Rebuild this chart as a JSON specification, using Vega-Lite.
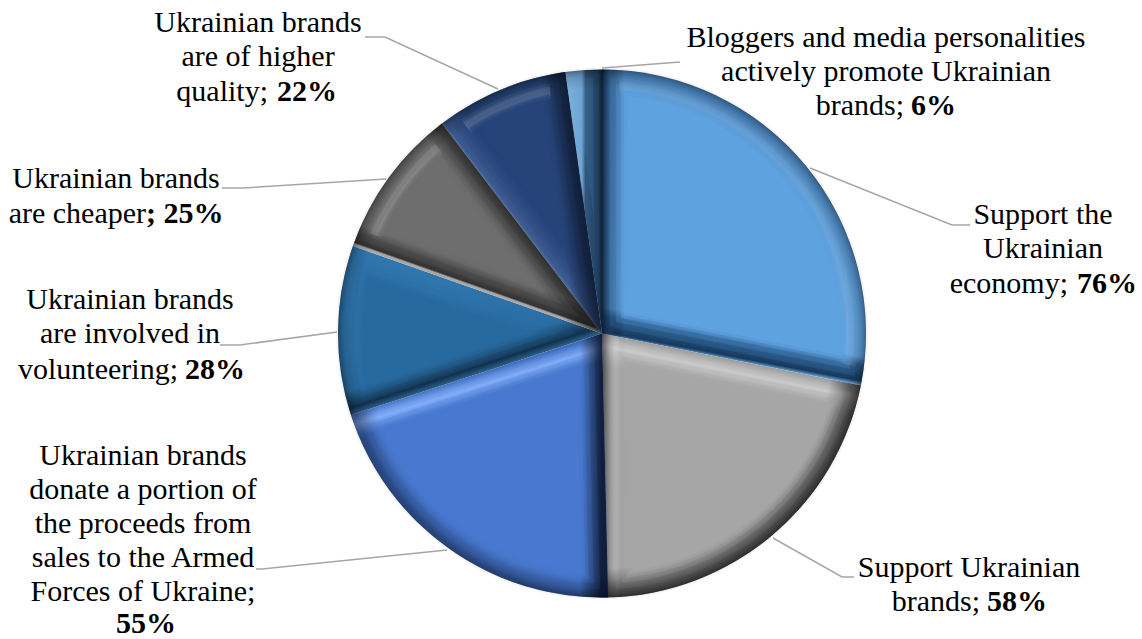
{
  "$schema": "https://vega.github.io/schema/vega-lite/v6.json",
  "width": 1080,
  "height": 611,
  "padding": {"left": 62, "top": 28, "right": 0, "bottom": 0},
  "autosize": "none",
  "background": "white",
  "config": {"view": {"stroke": null}},
  "data": {"values": [
    {"category": "economy", "slot": 0, "value": 76, "block": ["Support the", "Ukrainian"], "tail": "economy;", "bold": "76%"},
    {"category": "brands", "slot": 1, "value": 58, "block": ["Support Ukrainian"], "tail": "brands;", "bold": "58%"},
    {"category": "donate", "slot": 2, "value": 55, "block": ["Ukrainian brands", "donate a portion of", "the proceeds from", "sales to the Armed", "Forces of Ukraine;"], "tail": "", "bold": "55%"},
    {"category": "volunteering", "slot": 3, "value": 28, "block": ["Ukrainian brands", "are involved in"], "tail": "volunteering;", "bold": "28%"},
    {"category": "cheaper", "slot": 4, "value": 25, "block": ["Ukrainian brands"], "tail": "are cheaper", "bold": "; 25%"},
    {"category": "quality", "slot": 5, "value": 22, "block": ["Ukrainian brands", "are of higher"], "tail": "quality;", "bold": "22%"},
    {"category": "promote", "slot": 6, "value": 6, "block": ["Bloggers and media personalities", "actively promote Ukrainian"], "tail": "brands;", "bold": "6%"}
  ]},
  "resolve": {"scale": {"x": "independent", "y": "independent", "color": "independent"}},
  "layer": [
    {
      "transform": [
        {"calculate": "min(8 / sin(PI * datum.value / 270), 200)", "as": "apex8"},
        {"calculate": "min(14 / sin(PI * datum.value / 270), 200)", "as": "apex14"},
        {"calculate": "min(19 / sin(PI * datum.value / 270), 200)", "as": "apex19"},
        {"calculate": "min(22 / sin(PI * datum.value / 270), 200)", "as": "apex22"},
        {"calculate": "min(25 / sin(PI * datum.value / 270), 200)", "as": "apex25"}
      ],
      "encoding": {
        "theta": {"field": "value", "type": "quantitative", "stack": true},
        "order": {"field": "value", "sort": "descending"},
        "detail": {"field": "category"}
      },
      "layer": [
        {"mark": {"type": "arc", "radius": 266, "fill": "#000000", "opacity": 0.04}},
        {
          "mark": {"type": "arc", "radius": 264},
          "encoding": {"fill": {
            "condition": [
              {"test": "datum.category === 'economy'", "value": {"gradient": "linear", "x1": 0.5, "y1": 0, "x2": 0.356, "y2": 0.9, "stops": [{"offset": 0, "color": "#4d8bc8"}, {"offset": 0.9, "color": "#5ea2e0"}, {"offset": 0.93, "color": "#2b5d8e"}, {"offset": 0.985, "color": "#173a5e"}, {"offset": 1, "color": "#6fb0ea"}]}},
              {"test": "datum.category === 'brands'", "value": {"gradient": "linear", "x1": 0.5, "y1": 0.097, "x2": 0.4, "y2": 0.6, "stops": [{"offset": 0, "color": "#9a9a9a"}, {"offset": 0.09, "color": "#cfcfcf"}, {"offset": 0.18, "color": "#b4b4b4"}, {"offset": 0.24, "color": "#a6a6a6"}, {"offset": 1, "color": "#a6a6a6"}]}},
              {"test": "datum.category === 'donate'", "value": {"gradient": "linear", "x1": 0.5, "y1": 0.15, "x2": 0.74, "y2": 0.95, "stops": [{"offset": 0, "color": "#3d6cc0"}, {"offset": 0.055, "color": "#8ab4ff"}, {"offset": 0.115, "color": "#4878cf"}, {"offset": 1, "color": "#4878cf"}]}},
              {"test": "datum.category === 'volunteering'", "value": {"gradient": "linear", "x1": 0.26, "y1": 0.3, "x2": 0.5, "y2": 0.77, "stops": [{"offset": 0, "color": "#2f76ad"}, {"offset": 0.74, "color": "#2a6ea4"}, {"offset": 0.82, "color": "#1f567f"}, {"offset": 0.93, "color": "#12304e"}, {"offset": 1, "color": "#2d5f88"}]}},
              {"test": "datum.category === 'cheaper'", "value": {"gradient": "linear", "x1": 0.71, "y1": 0.29, "x2": 0.5, "y2": 0.79, "stops": [{"offset": 0, "color": "#6e6e6e"}, {"offset": 0.81, "color": "#6e6e6e"}, {"offset": 0.88, "color": "#4a4a4a"}, {"offset": 0.97, "color": "#333333"}, {"offset": 0.985, "color": "#a8a8a8"}, {"offset": 1, "color": "#a8a8a8"}]}},
              {"test": "datum.category === 'quality'", "value": {"gradient": "linear", "x1": 0.5, "y1": 0.6, "x2": 0.58, "y2": 0.5, "stops": [{"offset": 0, "color": "#54709c"}, {"offset": 0.12, "color": "#3c5a90"}, {"offset": 1, "color": "#264478"}]}},
              {"test": "datum.category === 'promote'", "value": {"gradient": "linear", "x1": 0, "y1": 0.5, "x2": 1, "y2": 0.5, "stops": [{"offset": 0, "color": "#7db2dc"}, {"offset": 0.45, "color": "#6ea4d2"}, {"offset": 0.55, "color": "#30587f"}, {"offset": 0.9, "color": "#1e3e5f"}, {"offset": 1, "color": "#0f2030"}]}}
            ],
            "value": "#888888"
          }}
        },
        {
          "mark": {"type": "arc", "radius": 264},
          "encoding": {"fill": {
            "condition": [
              {"test": "datum.category === 'economy'", "value": {"gradient": "linear", "x1": 0, "y1": 0.5, "x2": 1, "y2": 0.5, "stops": [{"offset": 0, "color": "rgba(10,30,55,0.95)"}, {"offset": 0.03, "color": "rgba(20,50,85,0.5)"}, {"offset": 0.085, "color": "rgba(0,0,0,0)"}, {"offset": 1, "color": "rgba(0,0,0,0)"}]}},
              {"test": "datum.category === 'brands'", "value": {"gradient": "linear", "x1": 0, "y1": 0.5, "x2": 1, "y2": 0.5, "stops": [{"offset": 0, "color": "rgba(30,30,30,0.7)"}, {"offset": 0.02, "color": "rgba(60,60,60,0.4)"}, {"offset": 0.06, "color": "rgba(255,255,255,0.1)"}, {"offset": 0.09, "color": "rgba(0,0,0,0)"}, {"offset": 1, "color": "rgba(0,0,0,0)"}]}},
              {"test": "datum.category === 'donate'", "value": {"gradient": "linear", "x1": 0, "y1": 0.5, "x2": 1, "y2": 0.5, "stops": [{"offset": 0, "color": "rgba(0,0,0,0)"}, {"offset": 0.89, "color": "rgba(0,0,0,0)"}, {"offset": 0.975, "color": "rgba(10,20,45,0.9)"}, {"offset": 1, "color": "rgba(10,20,45,0.9)"}]}},
              {"test": "datum.category === 'cheaper'", "value": {"gradient": "linear", "x1": 0.48, "y1": 0.628, "x2": 0.68, "y2": 0.5, "stops": [{"offset": 0, "color": "rgba(0,0,0,0)"}, {"offset": 0.6, "color": "rgba(0,0,0,0)"}, {"offset": 1, "color": "rgba(20,20,20,0.7)"}]}},
              {"test": "datum.category === 'quality'", "value": {"gradient": "linear", "x1": 0.735, "y1": 0.534, "x2": 0.885, "y2": 0.5, "stops": [{"offset": 0, "color": "rgba(0,0,0,0)"}, {"offset": 0.9, "color": "rgba(10,20,40,0.75)"}, {"offset": 1, "color": "rgba(10,20,40,0.75)"}]}}
            ],
            "value": "rgba(0,0,0,0)"
          }}
        },
        {
          "mark": {"type": "arc", "radius": 264},
          "encoding": {"fill": {
            "condition": [
              {"test": "datum.category === 'brands'", "value": {"gradient": "radial", "x1": 0, "y1": 0, "r1": 0, "x2": 0, "y2": 0, "r2": 1, "stops": [{"offset": 0, "color": "rgba(0,0,0,0)"}, {"offset": 0.89, "color": "rgba(0,0,0,0)"}, {"offset": 0.97, "color": "rgba(0,0,0,0.45)"}, {"offset": 1, "color": "rgba(0,0,0,0.55)"}]}},
              {"test": "datum.category === 'donate'", "value": {"gradient": "radial", "x1": 0.98, "y1": 0, "r1": 0, "x2": 0.98, "y2": 0, "r2": 1.02, "stops": [{"offset": 0, "color": "rgba(0,0,0,0)"}, {"offset": 0.9, "color": "rgba(0,0,0,0)"}, {"offset": 0.975, "color": "rgba(5,20,60,0.3)"}, {"offset": 1, "color": "rgba(5,20,60,0.1)"}]}}
            ],
            "value": "rgba(0,0,0,0)"
          }}
        },
        {
          "mark": {"type": "arc", "radius": 256, "radius2": 240, "padAngle": 0.1, "fill": "#ffffff"},
          "encoding": {"opacity": {
            "condition": [
              {"test": "datum.category === 'quality' || datum.category === 'cheaper'", "value": 0.07},
              {"test": "datum.category === 'economy'", "value": 0.05}
            ],
            "value": 0
          }}
        },
        {
          "mark": {"type": "arc", "radius": 253, "radius2": 243, "padAngle": 0.1, "fill": "#ffffff"},
          "encoding": {"opacity": {
            "condition": [
              {"test": "datum.category === 'quality' || datum.category === 'cheaper'", "value": 0.09},
              {"test": "datum.category === 'economy'", "value": 0.06}
            ],
            "value": 0
          }}
        },
        {
          "mark": {"type": "arc", "radius": 251, "radius2": 245, "padAngle": 0.1, "fill": "#ffffff"},
          "encoding": {"opacity": {
            "condition": [
              {"test": "datum.category === 'quality' || datum.category === 'cheaper'", "value": 0.09},
              {"test": "datum.category === 'economy'", "value": 0.06}
            ],
            "value": 0
          }}
        },
        {
          "mark": {"type": "arc", "radius": 256, "radius2": {"expr": "datum.apex8"}, "padAngle": 0.0625, "opacity": 0.12},
          "encoding": {
            "color": {"field": "category", "type": "nominal", "legend": null, "scale": {"domain": ["economy", "brands", "donate", "volunteering", "cheaper", "quality", "promote"], "range": ["#5ea2e0", "#a6a6a6", "#4878cf", "#276a9f", "#6e6e6e", "#264478", "#6ea4d2"]}}
          }
        },
        {
          "mark": {"type": "arc", "radius": 250, "radius2": {"expr": "datum.apex14"}, "padAngle": 0.112, "opacity": 0.2},
          "encoding": {
            "color": {"field": "category", "type": "nominal", "legend": null, "scale": {"domain": ["economy", "brands", "donate", "volunteering", "cheaper", "quality", "promote"], "range": ["#5ea2e0", "#a6a6a6", "#4878cf", "#276a9f", "#6e6e6e", "#264478", "#6ea4d2"]}}
          }
        },
        {
          "mark": {"type": "arc", "radius": 245, "radius2": {"expr": "datum.apex19"}, "padAngle": 0.155, "opacity": 0.35},
          "encoding": {
            "color": {"field": "category", "type": "nominal", "legend": null, "scale": {"domain": ["economy", "brands", "donate", "volunteering", "cheaper", "quality", "promote"], "range": ["#5ea2e0", "#a6a6a6", "#4878cf", "#276a9f", "#6e6e6e", "#264478", "#6ea4d2"]}}
          }
        },
        {
          "mark": {"type": "arc", "radius": 242, "radius2": {"expr": "datum.apex22"}, "padAngle": 0.182, "opacity": 0.55},
          "encoding": {
            "color": {"field": "category", "type": "nominal", "legend": null, "scale": {"domain": ["economy", "brands", "donate", "volunteering", "cheaper", "quality", "promote"], "range": ["#5ea2e0", "#a6a6a6", "#4878cf", "#276a9f", "#6e6e6e", "#264478", "#6ea4d2"]}}
          }
        },
        {
          "mark": {"type": "arc", "radius": 239, "radius2": {"expr": "datum.apex25"}, "padAngle": 0.21},
          "encoding": {
            "color": {"field": "category", "type": "nominal", "legend": null, "scale": {"domain": ["economy", "brands", "donate", "volunteering", "cheaper", "quality", "promote"], "range": ["#5ea2e0", "#a6a6a6", "#4878cf", "#276a9f", "#6e6e6e", "#264478", "#6ea4d2"]}}
          }
        }
      ]
    },
    {
      "data": {"values": [{"rim": "whole pie"}]},
      "mark": {
        "type": "arc", "radius": 264, "theta": 0, "theta2": 6.2832,
        "fill": {"gradient": "radial", "x1": 0.5, "y1": 0.5, "r1": 0, "x2": 0.5, "y2": 0.5, "r2": 0.5, "stops": [{"offset": 0, "color": "rgba(0,0,0,0)"}, {"offset": 0.93, "color": "rgba(0,0,0,0)"}, {"offset": 0.975, "color": "rgba(0,0,0,0.14)"}, {"offset": 0.995, "color": "rgba(0,0,0,0.32)"}, {"offset": 1, "color": "rgba(0,0,0,0.45)"}]}
      },
      "encoding": {}
    },
    {
      "data": {"values": [
        {"leader": "economy", "knot": 0}, {"leader": "economy", "knot": 1}, {"leader": "economy", "knot": 2},
        {"leader": "brands", "knot": 3}, {"leader": "brands", "knot": 4}, {"leader": "brands", "knot": 5},
        {"leader": "donate", "knot": 6}, {"leader": "donate", "knot": 7}, {"leader": "donate", "knot": 8},
        {"leader": "volunteering", "knot": 9}, {"leader": "volunteering", "knot": 10}, {"leader": "volunteering", "knot": 11},
        {"leader": "cheaper", "knot": 12}, {"leader": "cheaper", "knot": 13}, {"leader": "cheaper", "knot": 14},
        {"leader": "quality", "knot": 15}, {"leader": "quality", "knot": 16}, {"leader": "quality", "knot": 17},
        {"leader": "promote", "knot": 18}, {"leader": "promote", "knot": 19}
      ]},
      "mark": {"type": "line", "color": "#a6a6a6", "strokeWidth": 1.5},
      "encoding": {
        "detail": {"field": "leader"},
        "order": {"field": "knot"},
        "x": {"field": "knot", "type": "quantitative", "axis": null, "scale": {"nice": false, "zero": false,
          "domain": [0,1,2,3,4,5,6,7,8,9,10,11,12,13,14,15,16,17,18,19],
          "range": [748,890,908,711,780,792,385,200,194,275,178,158,324,181,160,436,323,303,540,618]}},
        "y": {"field": "knot", "type": "quantitative", "axis": null, "scale": {"nice": false, "zero": false,
          "domain": [0,1,2,3,4,5,6,7,8,9,10,11,12,13,14,15,16,17,18,19],
          "range": [140,197,197,510,549,549,522,541,541,304,317,317,151,160,160,61,9,9,40,34]}}
      }
    },
    {
      "mark": {"type": "text", "font": "Liberation Serif", "fontSize": 30, "lineHeight": 34, "align": "center", "baseline": "alphabetic", "color": "#000000"},
      "encoding": {
        "text": {"field": "block"},
        "x": {"field": "slot", "type": "quantitative", "axis": null, "scale": {"nice": false, "zero": false, "domain": [0,1,2,3,4,5,6], "range": [981,907,81,68,54,196,824]}},
        "y": {"field": "slot", "type": "quantitative", "axis": null, "scale": {"nice": false, "zero": false, "domain": [0,1,2,3,4,5,6], "range": [196,549,437,281,160,4,19]}}
      }
    },
    {
      "mark": {"type": "text", "font": "Liberation Serif", "fontSize": 30, "align": "right", "baseline": "alphabetic", "color": "#000000"},
      "encoding": {
        "text": {"field": "tail"},
        "x": {"field": "slot", "type": "quantitative", "axis": null, "scale": {"nice": false, "zero": false, "domain": [0,1,2,3,4,5,6], "range": [1006,918,54,116,84,206,842]}},
        "y": {"field": "slot", "type": "quantitative", "axis": null, "scale": {"nice": false, "zero": false, "domain": [0,1,2,3,4,5,6], "range": [265,583,605,351,195,73,87]}}
      }
    },
    {
      "mark": {"type": "text", "font": "Liberation Serif", "fontSize": 30, "fontWeight": "bold", "align": "left", "baseline": "alphabetic", "color": "#000000"},
      "encoding": {
        "text": {"field": "bold"},
        "x": {"field": "slot", "type": "quantitative", "axis": null, "scale": {"nice": false, "zero": false, "domain": [0,1,2,3,4,5,6], "range": [1015,925,54,123,84,215,849]}},
        "y": {"field": "slot", "type": "quantitative", "axis": null, "scale": {"nice": false, "zero": false, "domain": [0,1,2,3,4,5,6], "range": [265,583,605,351,195,73,87]}}
      }
    }
  ]
}
